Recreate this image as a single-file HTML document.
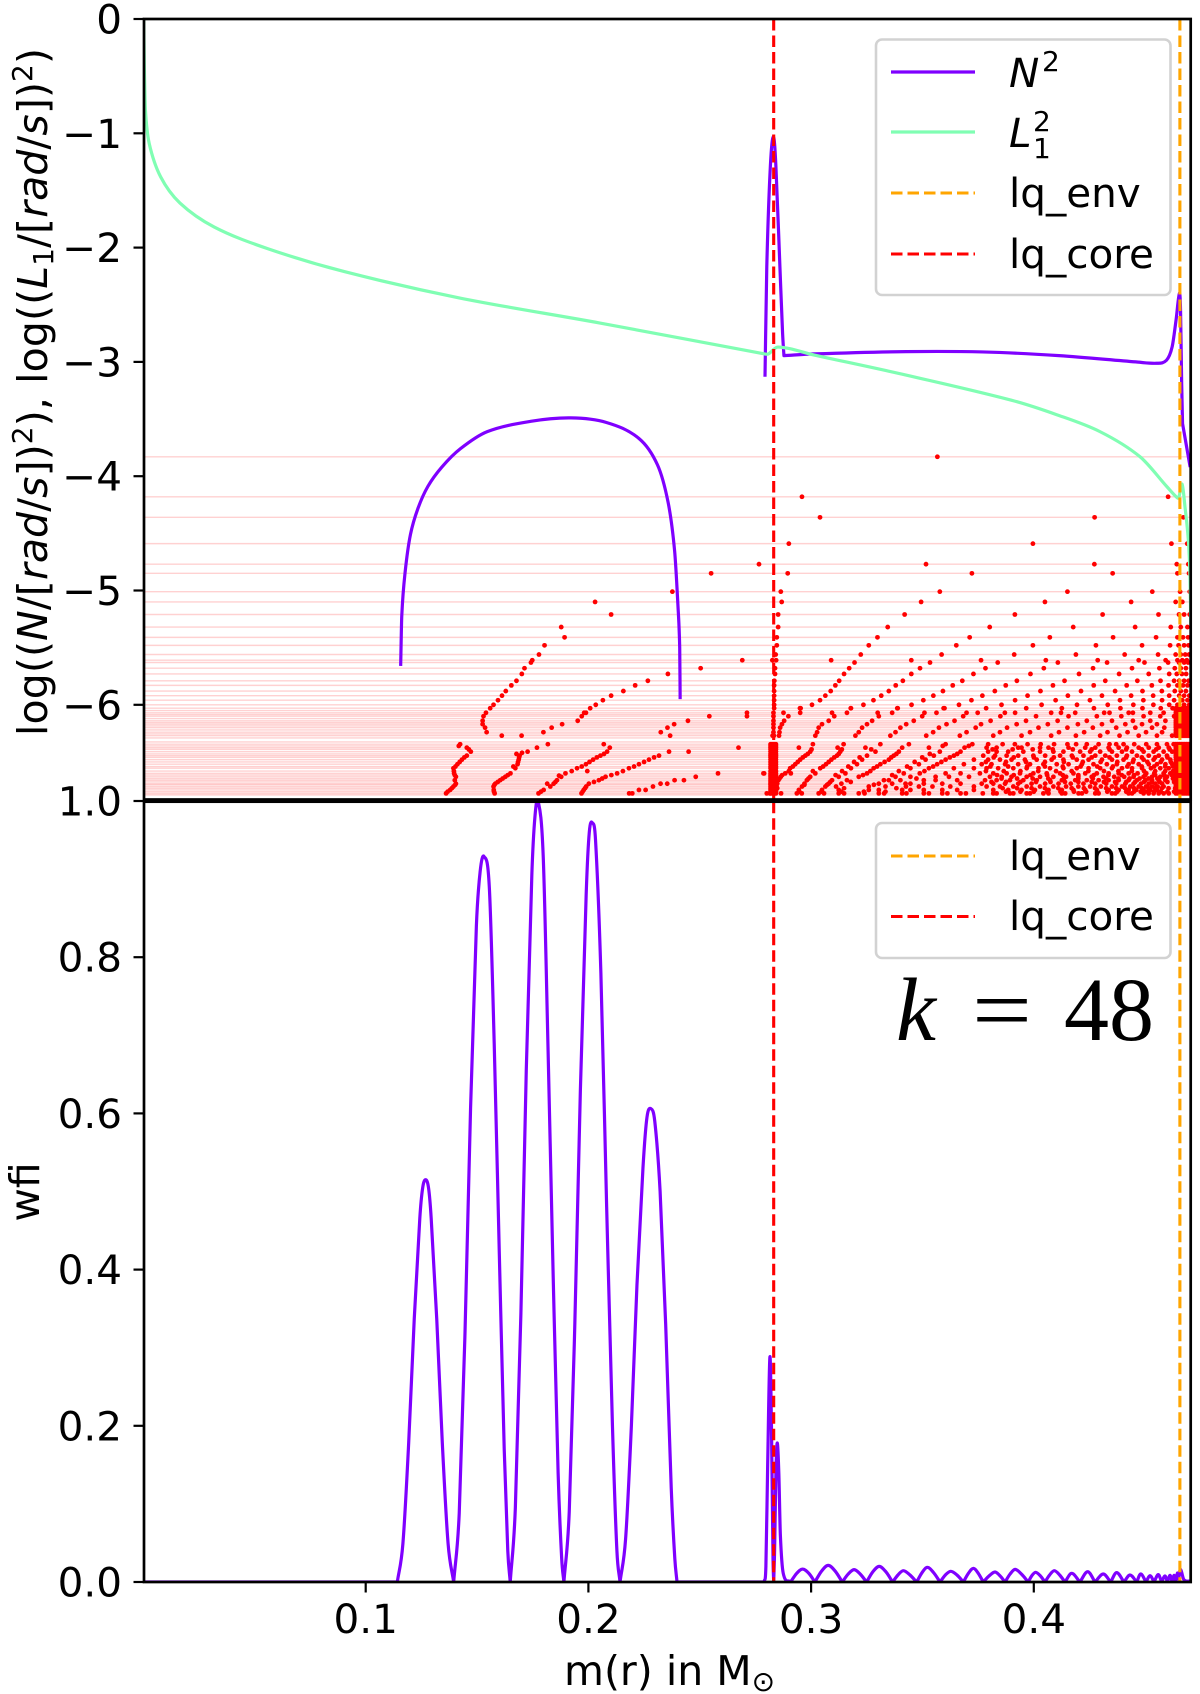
<!DOCTYPE html>
<html lang="en">
<head>
<meta charset="utf-8">
<title>Propagation diagram and weight function, k = 48</title>
<style>
html,body{margin:0;padding:0;background:#fff;}
svg{display:block;font-family:"DejaVu Sans","Liberation Sans",sans-serif;}
</style>
</head>
<body>
<svg id="chart" width="1200" height="1694" viewBox="0 0 1200 1694">
  <defs>
    <clipPath id="clip-upper"><rect x="144" y="19" width="1046.7" height="780.5"/></clipPath>
    <clipPath id="clip-lower"><rect x="144" y="801.7" width="1046.7" height="780.3"/></clipPath>
  </defs>
  <rect x="0" y="0" width="1200" height="1694" fill="#fff"/>
  <g id="upper-plot" clip-path="url(#clip-upper)"></g>
  <g id="lower-plot" clip-path="url(#clip-lower)"></g>
  <g id="axes-layer"></g>

  <g fill="none" stroke="#000" stroke-width="2.7">
    <rect x="144" y="19" width="1046.7" height="780.5"/>
    <rect x="144" y="801.7" width="1046.7" height="780.3"/>
  </g>

  <text transform="translate(47,392) rotate(-90)" text-anchor="middle" font-size="41" textLength="688" lengthAdjust="spacing" fill="#000">log((<tspan font-style="italic">N</tspan>/[<tspan font-style="italic">rad</tspan>/<tspan font-style="italic">s</tspan>])<tspan dy="-15" font-size="28">2</tspan><tspan dy="15">), log((</tspan><tspan font-style="italic">L</tspan><tspan dy="6" font-size="28">1</tspan><tspan dy="-6">/[</tspan><tspan font-style="italic">rad</tspan>/<tspan font-style="italic">s</tspan>])<tspan dy="-15" font-size="28">2</tspan><tspan dy="15">)</tspan></text>
  <text transform="translate(39,1192) rotate(-90)" text-anchor="middle" font-size="41" fill="#000">wfi</text>
  <text x="564" y="1685" font-size="41" fill="#000">m(r) in M<tspan dy="6" font-size="28">⊙</tspan></text>

  <g>
    <rect x="876" y="39.5" width="294.5" height="255.5" rx="6" ry="6" fill="#fff" fill-opacity="0.8" stroke="#d2d2d2" stroke-width="2.6"/>
    <line x1="891" x2="975" y1="72" y2="72" stroke="#7f00ff" stroke-width="3.2"/>
    <text x="1009" y="87" font-size="40.5" font-style="italic">N</text>
    <text x="1042" y="71" font-size="28">2</text>
    <line x1="891" x2="975" y1="132" y2="132" stroke="#80feb3" stroke-width="3.2"/>
    <text x="1009" y="147" font-size="40.5" font-style="italic">L</text>
    <text x="1033" y="131" font-size="28">2</text>
    <text x="1033" y="158" font-size="28">1</text>
    <line x1="891" x2="975" y1="193" y2="193" stroke="#ffa500" stroke-width="3.1" stroke-dasharray="11.5 5"/>
    <text x="1009" y="207" font-size="40.5">lq_env</text>
    <line x1="891" x2="975" y1="254" y2="254" stroke="#ff0000" stroke-width="3.1" stroke-dasharray="11.5 5"/>
    <text x="1009" y="268" font-size="40.5">lq_core</text>
  </g>

  <g>
    <rect x="876" y="823" width="294.5" height="135" rx="6" ry="6" fill="#fff" fill-opacity="0.8" stroke="#d2d2d2" stroke-width="2.6"/>
    <line x1="891" x2="975" y1="856" y2="856" stroke="#ffa500" stroke-width="3.1" stroke-dasharray="11.5 5"/>
    <text x="1009" y="870" font-size="40.5">lq_env</text>
    <line x1="891" x2="975" y1="916.5" y2="916.5" stroke="#ff0000" stroke-width="3.1" stroke-dasharray="11.5 5"/>
    <text x="1009" y="930" font-size="40.5">lq_core</text>
  </g>

  <text y="1040" font-size="90" font-family="'Liberation Serif',serif" fill="#000"><tspan x="896" font-style="italic">k</tspan><tspan x="972" textLength="60" lengthAdjust="spacingAndGlyphs">=</tspan><tspan x="1064">48</tspan></text>
</svg>

<script>
const xTicks = [0.1, 0.2, 0.3, 0.4];
const xTickLabels = ['0.1', '0.2', '0.3', '0.4'];
const upperYTicks = [0, -1, -2, -3, -4, -5, -6];
const upperYTickLabels = ['0', '−1', '−2', '−3', '−4', '−5', '−6'];
const lowerYTicks = [0, 0.2, 0.4, 0.6, 0.8, 1];
const lowerYTickLabels = ['0.0', '0.2', '0.4', '0.6', '0.8', '1.0'];
const lqCoreMass = 0.2832;
const lqEnvMass = 0.4656;

const n2Cavity = [[.1157,-5.66],[.1162,-5.22],[.1177,-4.84],[.1201,-4.51],[.1235,-4.28],[.1279,-4.09],[.1342,-3.92],[.1425,-3.76],[.1546,-3.61],[.1741,-3.52],[.1921,-3.49],[.2081,-3.53],[.2227,-3.67],[.231,-3.9],[.2358,-4.23],[.2387,-4.65],[.2402,-5.13],[.241,-5.5],[.2412,-5.95]];
const n2Envelope = [[.2793,-3.13],[.2801,-2.17],[.2817,-1.29],[.2831,-1.03],[.2842,-1.29],[.286,-2.17],[.2872,-2.75],[.2878,-2.945],[.3014,-2.93],[.3426,-2.91],[.377,-2.913],[.4113,-2.945],[.4458,-3.0],[.4552,-3.012],[.4596,-2.985],[.4621,-2.87],[.4639,-2.63],[.4654,-2.4],[.4659,-2.55],[.4664,-3.19],[.4668,-3.54],[.4702,-3.92]];
const n2SharpCorners = [.2878,.4668];
const l1Curve = [[.0003,0],[.0006,-.42],[.0011,-.8],[.0028,-1.09],[.0079,-1.38],[.0166,-1.61],[.032,-1.82],[.0561,-2.01],[.0904,-2.21],[.142,-2.44],[.2052,-2.66],[.2791,-2.93],[.2808,-2.93],[.2851,-2.87],[.3014,-2.94],[.3426,-3.115],[.3899,-3.335],[.41,-3.46],[.4297,-3.61],[.4477,-3.83],[.4597,-4.09],[.4645,-4.19],[.4652,-4.18],[.4666,-4.07],[.4679,-4.27],[.4694,-4.56],[.4701,-4.85],[.4705,-5.3]];
const wfiCurve = [[.0005,0],[.1142,0],[.1167,.049],[.1193,.178],[.1218,.337],[.1243,.466],[.1256,.505],[.1269,.515],[.1282,.505],[.1294,.466],[.1319,.337],[.1344,.178],[.137,.049],[.1395,0],
[.142,.088],[.1446,.32],[.1471,.608],[.1497,.84],[.1514,.91],[.1531,.929],[.1555,.89],[.1577,.69],[.16,.42],[.1622,.17],[.1638,.04],[.1649,0],
[.1672,.095],[.1697,.345],[.1721,.655],[.1746,.905],[.176,.98],[.1774,1],[.1797,.93],[.1819,.68],[.1842,.39],[.1864,.14],[.188,.03],[.189,0],
[.1914,.09],[.1939,.33],[.1964,.63],[.199,.88],[.2004,.96],[.2018,.972],[.2032,.95],[.2056,.78],[.2082,.48],[.2108,.2],[.2128,.04],[.2142,0],
[.2167,.055],[.2193,.2],[.2218,.38],[.2245,.53],[.2263,.595],[.2281,.606],[.2298,.59],[.2322,.5],[.2347,.33],[.2372,.12],[.2388,.03],[.2398,0],
[.2789,0],[.2797,.02],[.2805,.15],[.2815,.288],[.2822,.2],[.2829,.03],[.2832,0],[.2836,.04],[.2842,.14],[.2848,.178],[.2855,.14],[.2862,.06],[.2875,.011],[.2908,0],
[.2935,.011],[.2962,.0166],[.299,.011],[.3017,0],[.3047,.014],[.3077,.0213],[.3108,.014],[.314,0],[.3166,.01],[.3193,.0158],[.3221,.01],[.3249,0],[.3277,.013],[.3306,.02],[.3336,.013],[.3366,0],[.339,.009],[.3414,.0145],[.3444,.009],[.3474,0],[.3498,.012],[.3522,.0188],[.355,.012],[.3579,0],[.3603,.009],[.3627,.0137],[.3655,.009],[.3684,0],[.3706,.011],[.3729,.0175],[.3751,.011],[.3773,0],[.38,.008],[.3826,.0128],[.3848,.008],[.3871,0],[.3893,.01],[.3916,.0162],[.3945,.01],[.3975,0],[.3991,.008],[.4008,.0124],[.4029,.008],[.405,0],[.4071,.009],[.4092,.0145],[.4116,.009],[.414,0],[.417,.0111],[.4207,0],[.4242,.0132],[.4275,0],[.4312,.0102],[.4345,0],[.4372,.012],[.4405,0],[.4432,.009],[.4462,0],[.448,.0102],[.4504,0],[.4522,.0081],[.454,0],[.4559,.0094],[.4574,0],[.4589,.0077],[.46,0],[.4612,.0085],[.4621,0],[.463,.0085],[.4637,.001],[.4645,.0115],[.465,.004],[.4658,.0162],[.4674,.003],[.4702,.001]];

const eigenLevels = [-3.83,-4.18,-4.36,-4.59,-4.77,-4.85,-5.01,-5.1,-5.21,-5.32,-5.41,-5.48,-5.56,-5.61,-5.63,-5.68,-5.73,-5.79,-5.83,-5.88,-5.92,-5.96,-6,-6.03,-6.07,-6.1,-6.14,-6.17,-6.2,-6.24,-6.27,-6.29,-6.325,-6.345,-6.375,-6.41,-6.445,-6.48,-6.52,-6.555,-6.6,-6.63,-6.66,-6.69,-6.715,-6.745,-6.775,-6.36,-6.39,-6.43,-6.46,-6.5,-6.54,-6.58,-6.615,-6.645,-6.675,-6.7,-6.73,-6.76,-6.788,-6.05,-6.085,-6.12,-6.155,-6.185,-6.22,-6.255];

const nodeRows = [
[-3.83,.3567],
[-4.18,.2959,.4603],
[-4.36,.304,.4273,.4672],
[-4.59,.29,.3996,.4618,.4689],
[-4.77,.2766,.3516,.4272,.4642,.4694],
[-4.85,.2551,.2895,.3722,.4354,.4645,.4697],
[-5.01,.2377,.2864,.3578,.4151,.4532,.4657,.47],
[-5.1,.203,.2868,.3494,.405,.4437,.4637,.4667],
[-5.21,.2102,.2852,.342,.3915,.4309,.456,.4652,.4675,.47],
[-5.32,.1878,.2852,.3344,.3802,.4177,.4455,.4615,.466,.469],
[-5.41,.1893,.2846,.3298,.3712,.4072,.4356,.4549,.4645,.467,.4693],
[-5.48,.1803,.2846,.3259,.3652,.3996,.4279,.4486,.4612,.465,.4675,.4695],
[-5.56,.1778,.2841,.3223,.3586,.3912,.4189,.4408,.4558,.4637,.466,.468,.4697],
[-5.61,.1748,.2691,.2826,.2843,.309,.345,.3763,.4054,.4287,.4471,.4592,.4645,.4667,.4687],
[-5.63,.1742,.3195,.3534,.3838,.4108,.4329,.4497,.4603,.4652,.4675,.4693],
[-5.68,.1713,.2504,.2838,.3171,.3489,.3783,.4045,.4266,.4441,.4564,.4633,.466,.4683],
[-5.73,.1701,.2357,.2838,.3148,.345,.3729,.3985,.4203,.4383,.4516,.4608,.4642,.4665,.4684],
[-5.79,.1677,.2267,.2835,.3126,.3412,.3679,.3924,.4138,.4321,.4465,.4569,.463,.4653,.4675,.4695],
[-5.83,.1654,.221,.2834,.3109,.338,.3636,.3874,.4086,.4269,.4417,.453,.4605,.4645,.467,.469],
[-5.88,.1629,.2157,.2834,.3088,.3349,.3592,.3825,.403,.4212,.4365,.4488,.4575,.4633,.466,.4683],
[-5.92,.1612,.2102,.2834,.3064,.3315,.3549,.3769,.3972,.4153,.4306,.4437,.4536,.4608,.4653,.4675,.4698],
[-5.96,.1594,.2065,.2834,.304,.328,.3504,.372,.3916,.4098,.4252,.4387,.4492,.4576,.463,.4667,.469],
[-6,.1574,.2033,.2834,.3004,.3235,.3451,.3664,.3855,.4035,.4194,.4332,.4447,.4537,.4608,.4645,.4675,.4698],
[-6.03,.1559,.2008,.2834,.295,.2953,.3178,.3179,.3387,.3389,.3595,.3599,.3786,.3966,.4126,.427,.4389,.4488,.457,.4623,.466,.469],
[-6.07,.154,.1981,.1989,.2712,.2831,.2876,.2951,.3094,.3161,.3299,.3364,.3509,.3563,.3698,.3748,.387,.3916,.4078,.4122,.4186,.4316,.434,.4426,.4445,.4523,.4583,.4645,.4683],
[-6.1,.1529,.197,.2543,.2712,.2831,.2898,.3104,.3304,.3499,.3683,.385,.401,.4156,.4283,.4393,.4493,.4568,.463],
[-6.14,.1525,.1952,.2447,.2831,.2879,.3079,.3274,.3461,.3644,.3806,.3965,.4107,.4238,.4351,.4445,.4523,.4591],
[-6.17,.1525,.1882,.2385,.2831,.2869,.3049,.3251,.3427,.3608,.3763,.3923,.4063,.4198,.4306,.4411,.4486,.4553],
[-6.2,.1536,.1835,.2355,.2831,.2861,.3034,.3229,.3401,.3574,.3739,.388,.4021,.4151,.4265,.437,.4456,.4531,.4586],
[-6.24,.1543,.1798,.2325,.2831,.2858,.3027,.3214,.3379,.3548,.3698,.3848,.3983,.4113,.4226,.4331,.4421,.4504,.4576],
[-6.27,.1611,.17,.2367,.2827,.2833,.2856,.3019,.3199,.3356,.3517,.3668,.3818,.3945,.4078,.4189,.4298,.4385,.4471,.4553,.4621],
[-6.345,.3008,.3146,.3311,.3439,.3604,.3724,.3795,.386,.3915,.3972,.4031,.4091,.4151,.419,.4238,.4291,.434,.437,.4403,.4451,.4505,.4553,.4598,.4628],
[-6.375,.2674,.2945,.3119,.3244,.3409,.3529,.3689,.3788,.3833,.393,.3945,.4028,.4066,.4156,.4231,.4276,.4336,.4381,.4418,.4471,.4516,.4561,.4606],
[-6.39,.3815,.3905,.3995,.4085,.4175,.426,.434,.4415,.4485,.455,.461],
[-6.41,.245,.2996,.3131,.3289,.3394,.3578,.3671,.3795,.3833,.3885,.3953,.4028,.4088,.4133,.4208,.4253,.4298,.4351,.4396,.4441,.4493,.4538,.4583,.4621],
[-6.445,.2974,.3116,.3251,.3371,.3551,.3641,.3773,.3826,.3878,.393,.3998,.4051,.4118,.4171,.4223,.4276,.4321,.4373,.4418,.4463,.4516,.4561,.4598],
[-6.46,.382,.391,.4,.409,.4175,.426,.434,.4415,.4485,.4545,.46],
[-6.48,.2951,.3091,.3229,.3349,.3514,.3604,.3731,.3795,.3848,.39,.396,.4013,.408,.4133,.4193,.4246,.4306,.4351,.4403,.4448,.4493,.4538,.4576,.4613],
[-6.5,.3785,.3875,.3965,.405,.4135,.422,.43,.4375,.4445,.451,.457,.4615],
[-6.52,.2929,.3067,.3206,.3311,.3484,.3566,.3686,.3766,.381,.3871,.393,.3983,.4043,.4103,.4156,.4216,.4268,.4328,.4373,.4426,.4471,.4516,.4553,.4591,.4621],
[-6.54,.3805,.3885,.397,.405,.413,.421,.4285,.4355,.442,.4485,.454,.459,.4625],
[-6.555,.2906,.3041,.3179,.3281,.3446,.3529,.3641,.3731,.3788,.384,.3908,.3968,.4021,.4073,.4133,.4193,.4246,.4298,.4351,.4396,.4441,.4486,.4526,.4568,.4606],
[-6.58,.3785,.3865,.394,.402,.41,.417,.4245,.4315,.438,.444,.4495,.4545,.459,.4625],
[-6.6,.2786,.2884,.2909,.3019,.3154,.3251,.3416,.3488,.3604,.3671,.3758,.3818,.3878,.3938,.3998,.4058,.4118,.4178,.4231,.4283,.4336,.4381,.4426,.4466,.4505,.4541,.4583,.4613],
[-6.615,.3835,.391,.3985,.406,.413,.42,.427,.4335,.4395,.445,.45,.4545,.4585,.462],
[-6.63,.2864,.2996,.3124,.3214,.3379,.3446,.3559,.3619,.3709,.3803,.3856,.39,.3968,.4028,.4088,.4145,.42,.426,.4313,.4361,.4406,.4448,.4493,.4531,.4568,.4598],
[-6.645,.3855,.3925,.3995,.4065,.4135,.42,.4265,.4325,.438,.443,.4475,.4515,.4555,.459,.4625],
[-6.66,.2853,.2981,.3094,.3161,.3349,.3401,.3506,.3559,.3656,.3781,.3833,.3893,.3953,.4013,.4073,.4126,.4186,.4238,.4291,.4336,.4381,.4426,.4463,.4501,.4531,.4561,.4591],
[-6.675,.381,.3875,.394,.401,.4075,.414,.42,.426,.4315,.4365,.4415,.4455,.4495,.453,.4565,.46,.463],
[-6.69,.2848,.297,.3079,.3136,.3304,.3364,.3446,.3506,.3589,.3671,.3766,.3818,.3871,.393,.399,.4051,.4111,.4166,.4223,.4276,.4325,.437,.4411,.4448,.4481,.4516,.4546,.4576],
[-6.715,.2845,.2959,.3064,.3112,.3259,.3334,.3426,.3484,.3545,.3625,.3731,.3788,.3848,.3908,.3968,.4028,.4088,.4145,.42,.4253,.4301,.4351,.4396,.4433,.4471,.4504,.4531,.4556,.4583],
[-6.73,.386,.3925,.399,.405,.411,.417,.4225,.4275,.4325,.437,.441,.445,.4485,.4515,.4545,.4575,.4605,.4635],
[-6.745,.2843,.2945,.3049,.3124,.3259,.3304,.3409,.3446,.3506,.3589,.3656,.3731,.3818,.3885,.3945,.4005,.4066,.4126,.4178,.4231,.4283,.4336,.4381,.4426,.446,.4493,.4523,.4553],
[-6.76,.3875,.394,.4,.406,.412,.418,.4235,.4285,.433,.4375,.4415,.445,.448,.451,.454,.457,.46,.463],
[-6.775,.2801,.2815,.2865,.2936,.2958,.3034,.3058,.3124,.3148,.3214,.324,.3304,.3328,.3409,.3428,.3506,.3529,.3589,.3612,.3671,.3695,.3771,.3818,.3833,.3893,.3908,.3968,.3983,.4043,.4066,.4126,.4141,.4201,.4216,.4276,.4291,.4351,.4366,.4426,.4441,.4493,.4516,.4538,.4561,.4583,.4606]
];

const leftStrandMass = [.1424,.1454,.1472,.1454,.1432,.1412,.1394,.1397,.1405,.1405,.1394,.1379,.1361,.1818,.1769,.1727,.1691,.1687,.1682,.1672,.165,.1627,.1604,.1582,.1574,.1575,.1579,.2069,.2096,.2084,.2054,.2021,.1989,.1949,.1897,.1878,.1859,.1844,.1829,.1799,.1776,.2362,.2317,.2272,.2227,.2182,.2129,.2077,.2047,.2002,.199,.1979,.1969,.2482,.2429,.2387,.2354,.2324,.229,.2257,.2227,.2197,.2183,.2582,.2789,.1418,.1463,.1443,.1422,.1403,.14,.1368,.1702,.1677,.1663,.1615,.1593,.1578,.1995,.1925,.1868,.1815,.1787];
const leftStrandLog = [-6.345,-6.375,-6.41,-6.445,-6.48,-6.52,-6.555,-6.6,-6.63,-6.69,-6.715,-6.745,-6.775,-6.345,-6.375,-6.41,-6.445,-6.48,-6.52,-6.555,-6.6,-6.63,-6.66,-6.69,-6.715,-6.745,-6.775,-6.345,-6.375,-6.41,-6.445,-6.48,-6.52,-6.555,-6.6,-6.63,-6.66,-6.69,-6.715,-6.745,-6.775,-6.41,-6.445,-6.48,-6.52,-6.555,-6.6,-6.63,-6.66,-6.69,-6.715,-6.745,-6.775,-6.63,-6.66,-6.66,-6.69,-6.69,-6.715,-6.745,-6.745,-6.775,-6.775,-6.6,-6.6,-6.36,-6.39,-6.46,-6.5,-6.54,-6.66,-6.76,-6.42,-6.43,-6.54,-6.645,-6.675,-6.7,-6.58,-6.58,-6.62,-6.69,-6.76];

const extraStrandPoints = [
[.1396,-6.58],[.14,-6.615],[.1402,-6.7],[.1387,-6.73],
[.1689,-6.46],[.1684,-6.5],[.1638,-6.615],[.1576,-6.76],
[.1852,-6.675],[.207,-6.43],[.2038,-6.46],[.2005,-6.5],[.197,-6.54],
[.2295,-6.46],[.225,-6.5],[.2205,-6.54],[.2155,-6.58],[.2103,-6.615],[.2062,-6.645],[.2025,-6.675],[.1985,-6.73],[.1974,-6.76],
[.2848,-6.73],[.2858,-6.645],[.287,-6.615],[.29,-6.58],[.2918,-6.54],[.294,-6.5],[.2963,-6.46],[.2985,-6.43],[.3002,-6.39],
[.2947,-6.76],[.297,-6.7],[.2988,-6.645],[.3008,-6.58],[.3054,-6.54],[.3079,-6.5],[.3104,-6.46],[.3124,-6.43],[.3138,-6.39],
[.3046,-6.76],[.3072,-6.7],[.3086,-6.675],[.311,-6.615],[.3139,-6.58],[.3167,-6.54],[.3193,-6.5],[.3218,-6.46],[.327,-6.39],
[.3136,-6.76],[.3148,-6.73],[.3178,-6.675],[.3233,-6.615],[.3266,-6.58],[.3296,-6.54],[.333,-6.5],[.336,-6.46],[.3383,-6.43],
[.3237,-6.76],[.3282,-6.7],[.3327,-6.66],[.3364,-6.615],[.3394,-6.58],[.3431,-6.54],[.3465,-6.5],[.3499,-6.46],[.3533,-6.43],[.3591,-6.36],
[.3334,-6.76],[.3383,-6.73],[.3424,-6.69],[.3473,-6.645],[.3509,-6.58],[.3548,-6.54],[.3585,-6.5],[.3623,-6.46],[.3656,-6.43],[.3708,-6.36]
];

const coreBlockMass = [.2818,.2824,.283,.2836,.2842];
const coreBlockLevels = [-6.345,-6.36,-6.375,-6.39,-6.41,-6.43,-6.445,-6.46,-6.48,-6.5,-6.52,-6.54,-6.555,-6.58,-6.6,-6.615,-6.63,-6.645,-6.66,-6.675,-6.69,-6.7,-6.715,-6.73,-6.745,-6.76,-6.775];
const denseBlockMass = [.4638,.4646,.4654,.4662,.467,.4678,.4686,.4694,.4702];
const denseBlockLevels = [-6.03,-6.05,-6.07,-6.085,-6.1,-6.12,-6.14,-6.155,-6.17,-6.185,-6.2,-6.22,-6.24,-6.255,-6.27,-6.345,-6.36,-6.375,-6.39,-6.41,-6.43,-6.445,-6.46,-6.48,-6.5,-6.52,-6.54,-6.555,-6.58,-6.6,-6.615,-6.63,-6.645,-6.66,-6.675,-6.69,-6.7,-6.715,-6.73,-6.745,-6.76,-6.775];

function xScale(m){return 143+2227*m;}
function yUpper(v){return 19-114.3*v;}
function yLower(v){return 1582-781*v;}

const chartSvg = document.getElementById('chart');
const upperPlot = document.getElementById('upper-plot');
const lowerPlot = document.getElementById('lower-plot');
const axesLayer = document.getElementById('axes-layer');
function svgNode(tag){return document.createElementNS(chartSvg.namespaceURI,tag);}

function smoothPath(points,yScale,isCorner){
  const px=points.map(function(p){return [xScale(p[0]),yScale(p[1])];});
  const last=px.length-1;
  function centralSlope(i){return (px[i+1][1]-px[i-1][1])/(px[i+1][0]-px[i-1][0]);}
  let d='M'+px[0][0].toFixed(2)+' '+px[0][1].toFixed(2);
  for(let i=0;i<last;i++){
    const dx=px[i+1][0]-px[i][0];
    const chordSlope=(px[i+1][1]-px[i][1])/dx;
    const outSlope=(i===0||isCorner(points[i]))?chordSlope:centralSlope(i);
    const inSlope=(i+1===last||isCorner(points[i+1]))?chordSlope:centralSlope(i+1);
    d+='C'+(px[i][0]+dx/3).toFixed(2)+' '+(px[i][1]+outSlope*dx/3).toFixed(2)+' '+
      (px[i+1][0]-dx/3).toFixed(2)+' '+(px[i+1][1]-inSlope*dx/3).toFixed(2)+' '+
      px[i+1][0].toFixed(2)+' '+px[i+1][1].toFixed(2);
  }
  return d;
}

eigenLevels.forEach(function(level){
  const el = svgNode('line');
  el.setAttribute('x1',144);
  el.setAttribute('x2',1191);
  el.setAttribute('y1',yUpper(level));
  el.setAttribute('y2',yUpper(level));
  el.setAttribute('stroke','#ff0000');
  el.setAttribute('stroke-opacity','0.18');
  el.setAttribute('stroke-width','1.4');
  
  
  upperPlot.appendChild(el);
});

function addNode(mass,level){
  const el = svgNode('circle');
  el.setAttribute('cx',xScale(mass).toFixed(2));
  el.setAttribute('cy',yUpper(level).toFixed(2));
  el.setAttribute('r','2.4');
  el.setAttribute('fill','#ff0000');
  
  
  upperPlot.appendChild(el);
}
nodeRows.forEach(function(row){
  for(let i=1;i<row.length;i++){addNode(row[i],row[0]);}
});
leftStrandMass.forEach(function(mass,i){addNode(mass,leftStrandLog[i]);});
extraStrandPoints.forEach(function(p){addNode(p[0],p[1]);});
coreBlockLevels.forEach(function(level){
  coreBlockMass.forEach(function(mass){addNode(mass,level);});
});
denseBlockLevels.forEach(function(level){
  denseBlockMass.forEach(function(mass){addNode(mass,level);});
});

function noCorner(){return false;}
function n2Corner(p){return n2SharpCorners.indexOf(p[0])!==-1;}
function wfiCorner(p){return p[1]===0;}

const n2CavityPath = svgNode('path');
n2CavityPath.setAttribute('d',smoothPath(n2Cavity,yUpper,noCorner));
n2CavityPath.setAttribute('fill','none');
n2CavityPath.setAttribute('stroke','#7f00ff');
n2CavityPath.setAttribute('stroke-width','3.2');


upperPlot.appendChild(n2CavityPath);

const n2EnvelopePath = svgNode('path');
n2EnvelopePath.setAttribute('d',smoothPath(n2Envelope,yUpper,n2Corner));
n2EnvelopePath.setAttribute('fill','none');
n2EnvelopePath.setAttribute('stroke','#7f00ff');
n2EnvelopePath.setAttribute('stroke-width','3.2');
n2EnvelopePath.setAttribute('stroke-linejoin','round');


upperPlot.appendChild(n2EnvelopePath);

const l1Path = svgNode('path');
l1Path.setAttribute('d',smoothPath(l1Curve,yUpper,noCorner));
l1Path.setAttribute('fill','none');
l1Path.setAttribute('stroke','#80feb3');
l1Path.setAttribute('stroke-width','3.2');


upperPlot.appendChild(l1Path);

const wfiPath = svgNode('path');
wfiPath.setAttribute('d',smoothPath(wfiCurve,yLower,wfiCorner));
wfiPath.setAttribute('fill','none');
wfiPath.setAttribute('stroke','#7f00ff');
wfiPath.setAttribute('stroke-width','3.2');
wfiPath.setAttribute('stroke-linejoin','round');


lowerPlot.appendChild(wfiPath);

[[upperPlot,19,799.5],[lowerPlot,801.7,1582]].forEach(function(panel){
  [[lqEnvMass,'#ffa500','lq-env-line'],[lqCoreMass,'#ff0000','lq-core-line']].forEach(function(mark){
    const el = svgNode('line');
    el.setAttribute('x1',xScale(mark[0]));
    el.setAttribute('x2',xScale(mark[0]));
    el.setAttribute('y1',panel[1]);
    el.setAttribute('y2',panel[2]);
    el.setAttribute('stroke',mark[1]);
    el.setAttribute('stroke-width','3.1');
    el.setAttribute('stroke-dasharray','11.5 5');
    
    
    panel[0].appendChild(el);
  });
});

function addYTick(y,label){
  const tick = svgNode('line');
  tick.setAttribute('x1',133.5);
  tick.setAttribute('x2',144);
  tick.setAttribute('y1',y);
  tick.setAttribute('y2',y);
  tick.setAttribute('stroke','#000');
  tick.setAttribute('stroke-width','2.2');
  
  
  axesLayer.appendChild(tick);
  const txt = svgNode('text');
  txt.setAttribute('x',122);
  txt.setAttribute('y',y+14.5);
  txt.setAttribute('text-anchor','end');
  txt.setAttribute('font-size','40.5');
  txt.textContent = label;
  
  
  axesLayer.appendChild(txt);
}
upperYTicks.forEach(function(v,i){addYTick(yUpper(v),upperYTickLabels[i]);});
lowerYTicks.forEach(function(v,i){addYTick(yLower(v),lowerYTickLabels[i]);});

xTicks.forEach(function(v,i){
  const tick = svgNode('line');
  tick.setAttribute('x1',xScale(v));
  tick.setAttribute('x2',xScale(v));
  tick.setAttribute('y1',1582);
  tick.setAttribute('y2',1592.5);
  tick.setAttribute('stroke','#000');
  tick.setAttribute('stroke-width','2.2');
  
  
  axesLayer.appendChild(tick);
  const txt = svgNode('text');
  txt.setAttribute('x',xScale(v));
  txt.setAttribute('y',1633);
  txt.setAttribute('text-anchor','middle');
  txt.setAttribute('font-size','40.5');
  txt.textContent = xTickLabels[i];
  
  
  axesLayer.appendChild(txt);
});
</script>
</body>
</html>
